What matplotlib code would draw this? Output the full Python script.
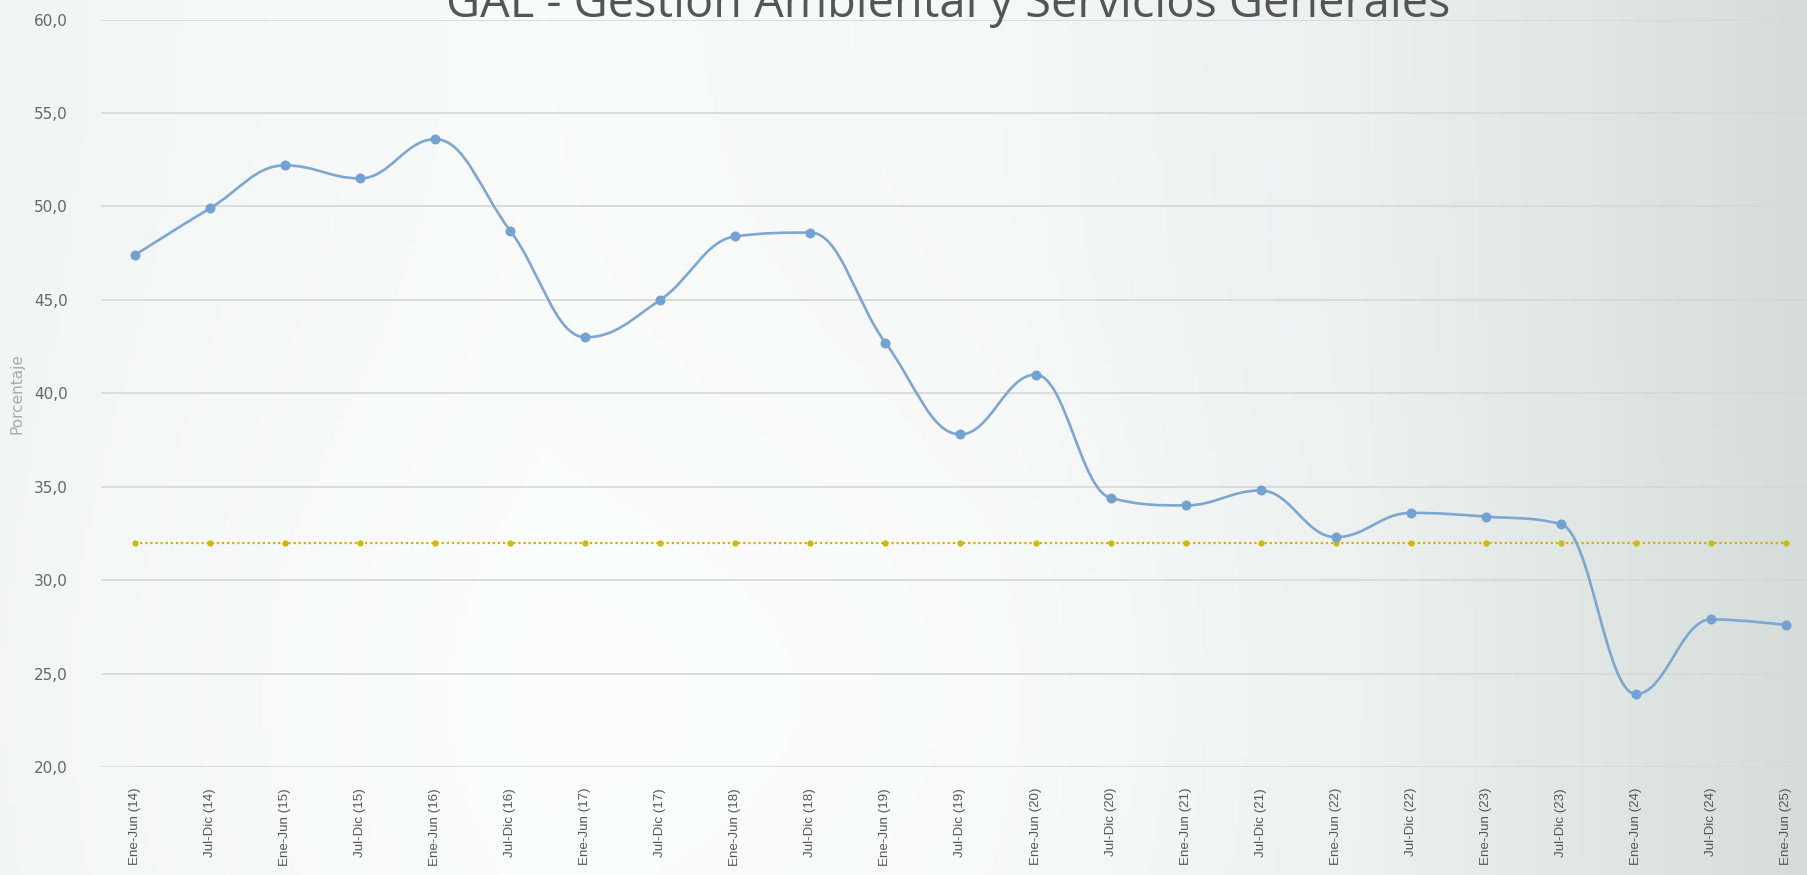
import numpy as np
import matplotlib
matplotlib.use("Agg")
import matplotlib.pyplot as plt
from matplotlib.path import Path
from matplotlib.patches import PathPatch

# ---- data ----
categories = ["Ene-Jun (14)", "Jul-Dic (14)", "Ene-Jun (15)", "Jul-Dic (15)",
              "Ene-Jun (16)", "Jul-Dic (16)", "Ene-Jun (17)", "Jul-Dic (17)",
              "Ene-Jun (18)", "Jul-Dic (18)", "Ene-Jun (19)", "Jul-Dic (19)",
              "Ene-Jun (20)", "Jul-Dic (20)", "Ene-Jun (21)", "Jul-Dic (21)",
              "Ene-Jun (22)", "Jul-Dic (22)", "Ene-Jun (23)", "Jul-Dic (23)",
              "Ene-Jun (24)", "Jul-Dic (24)", "Ene-Jun (25)"]
porcentaje = [47.4, 49.9, 52.2, 51.5, 53.6, 48.7, 43.0, 45.0, 48.4, 48.6,
              42.7, 37.8, 41.0, 34.4, 34.0, 34.8, 32.3, 33.6, 33.4, 33.0,
              23.9, 27.9, 27.6]
meta = [32.0] * len(categories)
yticks = [20, 25, 30, 35, 40, 45, 50, 55, 60]
title = "GAL - Gestión Ambiental y Servicios Generales"

W, H, DPI = 1808, 875, 100
fig = plt.figure(figsize=(W / DPI, H / DPI), dpi=DPI)

# ---- background gradient ----
bg = fig.add_axes([0, 0, 1, 1], zorder=-10)
bg.set_axis_off()
nx, ny = 400, 200
xs = np.linspace(0, 1, nx)
ys = np.linspace(0, 1, ny)
stops = [0.0, 0.3, 0.55, 0.75, 1.0]
cols = np.array([[243, 245, 244], [249, 250, 250], [246, 247, 247],
                 [236, 240, 239], [212, 221, 218]], float)
base = np.stack([np.interp(xs, stops, cols[:, c]) for c in range(3)], axis=-1)
img = np.repeat(base[None, :, :], ny, axis=0)
X, Y = np.meshgrid(xs, ys)
glow = np.exp(-(((X - 0.38) / 0.28) ** 2 + ((Y - 0.8) / 0.4) ** 2))
img = img + glow[..., None] * (253 - img) * 0.6
bg.imshow(np.clip(img, 0, 255).astype(np.uint8), extent=[0, 1, 0, 1],
          aspect="auto", origin="upper")
bg.set_xlim(0, 1); bg.set_ylim(0, 1)

# ---- main axes ----
left = 101 / W
top = 1 - 19.6 / H
bottom = 1 - 767 / H
ax = fig.add_axes([left, bottom, 1 - left, top - bottom])
ax.set_facecolor("none")
for s in ax.spines.values():
    s.set_visible(False)

x = np.arange(len(categories))
x0 = -(135 - 101) / 75.05
x1 = 22 + (1808 - 1786) / 75.05
ax.set_xlim(x0, x1)
ax.set_ylim(20, 60)

for yt in yticks:
    ax.axhline(yt, color="#d6d8d8", lw=1.2, zorder=1)

ax.set_yticks(yticks)
ax.set_yticklabels([f"{v:.1f}".replace(".", ",") for v in yticks],
                   fontsize=11, color="#666666", family="DejaVu Sans")
ax.tick_params(axis="y", length=0, pad=24)
ax.set_xticks(x)
ax.set_xticklabels(categories, rotation=90, fontsize=9.6, color="#555555",
                   family="Liberation Sans", va="top", ha="center")
ax.tick_params(axis="x", length=0, pad=15)
ax.set_ylabel("Porcentaje", fontsize=11, color="#aaaaaa", family="DejaVu Sans")
ax.yaxis.set_label_coords(-(101 - 25) / (W - 101), 0.5)


# ---- Highcharts-like spline ----
def spline_path(xv, yv, smoothing=1.5):
    n = len(xv)
    lc = [(xv[i], yv[i]) for i in range(n)]
    rc = [(xv[i], yv[i]) for i in range(n)]
    denom = smoothing + 1
    for i in range(1, n - 1):
        px, py = xv[i], yv[i]
        lx, ly = xv[i - 1], yv[i - 1]
        nx_, ny_ = xv[i + 1], yv[i + 1]
        lcx = (smoothing * px + lx) / denom
        lcy = (smoothing * py + ly) / denom
        rcx = (smoothing * px + nx_) / denom
        rcy = (smoothing * py + ny_) / denom
        if rcx != lcx:
            corr = ((rcy - lcy) * (rcx - px)) / (rcx - lcx) + py - rcy
            lcy += corr
            rcy += corr
        if lcy > ly and lcy > py:
            lcy = max(ly, py); rcy = 2 * py - lcy
        elif lcy < ly and lcy < py:
            lcy = min(ly, py); rcy = 2 * py - lcy
        if rcy > ny_ and rcy > py:
            rcy = max(ny_, py); lcy = 2 * py - rcy
        elif rcy < ny_ and rcy < py:
            rcy = min(ny_, py); lcy = 2 * py - rcy
        lc[i] = (lcx, lcy)
        rc[i] = (rcx, rcy)
    verts = [(xv[0], yv[0])]
    codes = [Path.MOVETO]
    for i in range(1, n):
        verts += [rc[i - 1], lc[i], (xv[i], yv[i])]
        codes += [Path.CURVE4] * 3
    return Path(verts, codes)


# target line
ax.plot(x, meta, color="#cbb400", lw=1.6, ls=(0, (1, 1.3)), zorder=3)
ax.plot(x, meta, ls="none", marker="o", ms=4.5, color="#cdb80c",
        markeredgewidth=0, zorder=4)

# data spline
p = spline_path(list(x.astype(float)), porcentaje)
ax.add_patch(PathPatch(p, fill=False, edgecolor="#7da7d1", lw=1.9, zorder=5,
                       capstyle="round", joinstyle="round"))
ax.plot(x, porcentaje, ls="none", marker="o", ms=7.2, color="#73a2d2",
        markeredgewidth=0, zorder=6)

# ---- title (scaled to reference width) ----
t = fig.text(948 / W, 1 - 17 / H, title, ha="center", va="baseline",
             fontsize=32, color="#555555", family="Open Sans")
fig.canvas.draw()
bb = t.get_window_extent()
t.set_fontsize(32 * 1004 / bb.width)

fig.savefig("out.png", dpi=DPI)
